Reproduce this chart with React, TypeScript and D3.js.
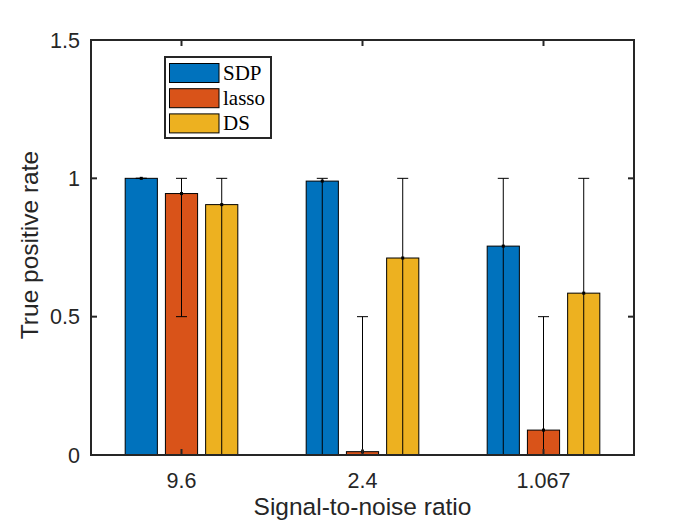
import React, { useRef, useEffect } from 'react';
import * as d3 from 'd3';

// values
const categories = ['9.6', '2.4', '1.067'];
const seriesNames = ['SDP', 'lasso', 'DS'];
const sdpValues = [1.0, 0.99, 0.755];
const lassoValues = [0.945, 0.012, 0.09];
const dsValues = [0.905, 0.712, 0.585];
const sdpLow = [1.0, 0, 0];
const sdpHigh = [1.0, 1, 1];
const lassoLow = [0.5, 0, 0];
const lassoHigh = [1, 0.5, 0.5];
const dsLow = [0, 0, 0];
const dsHigh = [1, 1, 1];
const yTicks = [0, 0.5, 1, 1.5];
const colors = ['#0072BD', '#D95319', '#EDB120'];

const W = 700;
const H = 525;
const left = 91;
const right = 634;
const top = 40;
const bottom = 455;
const axisColor = '#262626';

const App: React.FC = () => {
  const svgRef = useRef<SVGSVGElement>(null);

  useEffect(() => {
    if (!svgRef.current) return;
    const svg = d3.select(svgRef.current);
    svg.selectAll('*').remove();

    const x = d3.scaleLinear().domain([0.5, categories.length + 0.5]).range([left, right]);
    const y = d3.scaleLinear().domain([0, 1.5]).range([bottom, top]);
    const inner = d3
      .scaleBand()
      .domain(seriesNames)
      .range([-1 / 3, 1 / 3])
      .paddingInner(0.2)
      .paddingOuter(0.1);

    const values = [sdpValues, lassoValues, dsValues];
    const lows = [sdpLow, lassoLow, dsLow];
    const highs = [sdpHigh, lassoHigh, dsHigh];

    const rows = seriesNames.flatMap((s, si) =>
      categories.map((c, ci) => ({
        si,
        ci,
        value: values[si][ci],
        low: lows[si][ci],
        high: highs[si][ci],
        cx: x(ci + 1 + (inner(s) || 0) + inner.bandwidth() / 2),
      }))
    );
    const bw = x(inner.bandwidth()) - x(0);

    // bars
    svg
      .append('g')
      .selectAll('rect')
      .data(rows)
      .enter()
      .append('rect')
      .attr('x', (d) => d.cx - bw / 2)
      .attr('y', (d) => y(d.value))
      .attr('width', bw)
      .attr('height', (d) => y(0) - y(d.value))
      .attr('fill', (d) => colors[d.si])
      .attr('stroke', '#000')
      .attr('stroke-width', 1);

    // error bars
    const eb = svg.append('g').attr('stroke', '#000').attr('stroke-width', 1);
    const cap = 5.5;
    rows.forEach((d) => {
      eb.append('line')
        .attr('x1', d.cx).attr('x2', d.cx)
        .attr('y1', y(d.low)).attr('y2', y(d.high));
      [d.low, d.high].forEach((v) => {
        eb.append('line')
          .attr('x1', d.cx - cap).attr('x2', d.cx + cap)
          .attr('y1', y(v)).attr('y2', y(v));
      });
      svg.append('rect')
        .attr('x', d.cx - 1.5).attr('y', y(d.value) - 1.5)
        .attr('width', 3).attr('height', 3)
        .attr('fill', '#000');
    });

    // axes box and ticks
    const ax = svg.append('g').attr('stroke', axisColor).attr('stroke-width', 2);
    ax.append('rect')
      .attr('x', left).attr('y', top)
      .attr('width', right - left).attr('height', bottom - top)
      .attr('fill', 'none');
    const tl = 6;
    yTicks.forEach((t) => {
      ax.append('line').attr('x1', left).attr('x2', left + tl).attr('y1', y(t)).attr('y2', y(t));
      ax.append('line').attr('x1', right).attr('x2', right - tl).attr('y1', y(t)).attr('y2', y(t));
    });
    categories.forEach((c, i) => {
      ax.append('line').attr('x1', x(i + 1)).attr('x2', x(i + 1)).attr('y1', bottom).attr('y2', bottom - tl);
      ax.append('line').attr('x1', x(i + 1)).attr('x2', x(i + 1)).attr('y1', top).attr('y2', top + tl);
    });

    const font = '"Liberation Sans", Arial, sans-serif';
    svg.append('g')
      .selectAll('text')
      .data(yTicks)
      .enter()
      .append('text')
      .attr('x', left - 11)
      .attr('y', (d) => y(d) + 7.5)
      .attr('text-anchor', 'end')
      .style('font-family', font)
      .style('font-size', '21.5px')
      .attr('fill', axisColor)
      .text((d) => String(d));

    svg.append('g')
      .selectAll('text')
      .data(categories)
      .enter()
      .append('text')
      .attr('x', (d, i) => x(i + 1))
      .attr('y', 488)
      .attr('text-anchor', 'middle')
      .style('font-family', font)
      .style('font-size', '21.5px')
      .attr('fill', axisColor)
      .text((d) => d);

    svg.append('text')
      .attr('x', (left + right) / 2)
      .attr('y', 515)
      .attr('text-anchor', 'middle')
      .style('font-family', font)
      .style('font-size', '24.5px')
      .attr('fill', axisColor)
      .text('Signal-to-noise ratio');

    svg.append('text')
      .attr('transform', `translate(38, 245) rotate(-90)`)
      .attr('text-anchor', 'middle')
      .style('font-family', font)
      .style('font-size', '24.5px')
      .attr('fill', axisColor)
      .text('True positive rate');

    // legend
    const lg = svg.append('g');
    lg.append('rect')
      .attr('x', 165).attr('y', 57)
      .attr('width', 106).attr('height', 81)
      .attr('fill', '#fff')
      .attr('stroke', axisColor)
      .attr('stroke-width', 2);
    seriesNames.forEach((s, i) => {
      const cy = 73 + i * 25.2;
      lg.append('rect')
        .attr('x', 169.5).attr('y', cy - 9.5)
        .attr('width', 49.5).attr('height', 19)
        .attr('fill', colors[i])
        .attr('stroke', '#000')
        .attr('stroke-width', 1);
      lg.append('text')
        .attr('x', 223)
        .attr('y', cy + 7)
        .style('font-family', '"Liberation Serif", "Times New Roman", serif')
        .style('font-size', '21px')
        .attr('fill', '#000')
        .text(s);
    });
  }, []);

  return (
    <svg
      ref={svgRef}
      width={W}
      height={H}
      style={{ position: 'absolute', left: 0, top: 0, background: '#fff' }}
    />
  );
};

export default App;
